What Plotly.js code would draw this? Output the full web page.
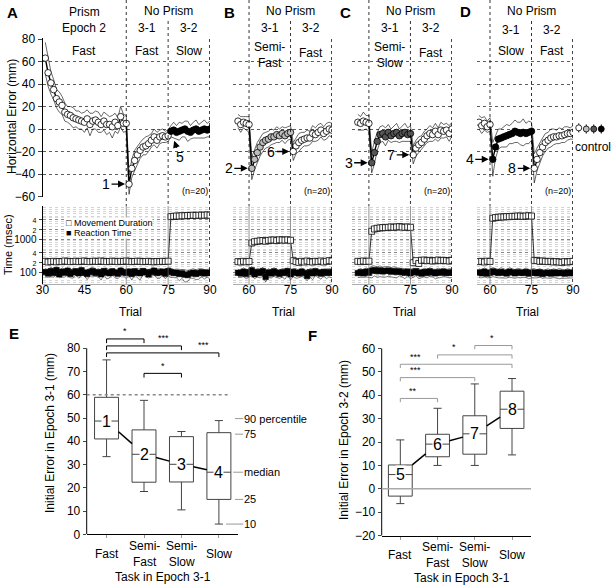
<!DOCTYPE html>
<html><head><meta charset="utf-8">
<script src="https://cdn.plot.ly/plotly-3.0.1.min.js"></script>
<style>html,body{margin:0;padding:0;background:#fff}#chart{width:612px;height:585px}</style>
</head><body><div id="chart"></div>
<script>
const FONT = '"Liberation Sans", Arial, Helvetica, sans-serif';
const W = 612, H = 585;
const fx = px => px / W;
const fy = py => 1 - py / H;

// ---------------- Panel A (trials 31-90) ----------------
const A_err_prism = [63, 50, 41, 35, 27, 24, 21, 15, 13, 12, 10, 9, 8, 7, 6, 9, 4, 7, 8, 6, 4, 7, 4, 4, 2, 6, 3, 11, 5, 5];
const A_sd_prism  = [14, 12, 10, 9, 8, 9, 8, 8, 7, 8, 9, 7, 8, 7, 9, 8, 10, 7, 8, 9, 7, 8, 9, 7, 10, 8, 7, 9, 8, 7];
const A_err_31 = [-49, -35, -28, -23, -19, -16, -15, -13, -10, -7, -10, -7, -6, -7, -6];
const A_sd_31  = [9, 8, 9, 8, 7, 7, 8, 7, 6, 7, 7, 6, 6, 5, 5];
const A_err_32 = [-2, -1, -3, -2, -1, 0, -2, -3, -1, 0, -2, -1, 0, -1, 0];
const A_sd_32  = [5, 7, 6, 8, 6, 7, 9, 6, 7, 8, 6, 7, 8, 6, 7];
const A_md = [220, 210, 215, 220, 212, 218, 215, 225, 220, 215, 218, 222, 215, 220, 225, 218, 215, 220, 222, 218, 225, 220, 215, 218, 222, 220, 215, 220, 218, 225,
              220, 215, 218, 222, 220, 215, 218, 220, 215, 212, 218, 215, 220, 218, 222,
              4800, 4900, 5000, 5000, 5100, 5100, 5200, 5200, 5300, 5200, 5300, 5300, 5300, 5400, 5300];
const A_rt = [105, 95, 112, 98, 120, 90, 108, 100, 115, 92, 104, 110, 96, 118, 100, 92, 106, 113, 99, 104, 90, 112, 101, 96, 110, 100, 94, 115, 103, 98,
              108, 92, 110, 100, 96, 112, 104, 90, 106, 115, 98, 102, 108, 94, 112,
              105, 98, 100, 92, 96, 88, 85, 95, 100, 92, 98, 104, 95, 100, 98];
const A_rt_sd = [30, 22, 35, 25, 28, 20, 33, 26, 30, 22, 35, 24, 28, 32, 20, 30, 26, 34, 22, 28, 30, 24, 36, 26, 22, 30, 28, 34, 24, 30,
                 26, 32, 22, 30, 35, 24, 28, 20, 32, 26, 30, 34, 22, 28, 30,
                 32, 26, 30, 34, 28, 36, 30, 26, 32, 30, 34, 28, 30, 26, 32];
const A_tasks = ['Fast', 'Fast', 'Slow'];

// ---------------- Panel B (trials 56-90) ----------------
const B_err_prism = [7, 4, 6, 5, 4];
const B_sd_prism  = [6, 7, 5, 6, 7];
const B_err_31 = [-35, -27, -21, -16, -12, -10, -9, -7, -7, -5, -6, -4, -6, -4, -3];
const B_sd_31  = [10, 9, 9, 8, 8, 7, 7, 7, 6, 7, 6, 6, 7, 6, 6];
const B_err_32 = [-20, -15, -12, -10, -9, -8, -8, -4, -5, -3, -1, -4, -2, 0, -1];
const B_sd_32  = [8, 7, 8, 7, 6, 7, 6, 7, 6, 7, 6, 6, 7, 6, 6];
const B_md = [215, 210, 220, 212, 218,
              780, 850, 880, 900, 920, 880, 930, 950, 960, 920, 970, 960, 950, 970, 940,
              230, 215, 205, 220, 210, 225, 215, 210, 220, 215, 225, 210, 220, 230, 225];
const B_rt = [100, 95, 108, 92, 104, 118, 90, 105, 98, 112, 75, 102, 95, 110, 100, 92, 104, 98, 112, 90, 106, 100, 95, 108, 98, 80, 104, 96, 110, 100, 94, 106, 98, 104, 100];
const B_rt_sd = [28, 22, 32, 26, 30, 35, 24, 30, 28, 34, 22, 30, 26, 32, 28, 24, 30, 34, 26, 30, 28, 32, 24, 30, 26, 22, 30, 34, 28, 26, 30, 24, 32, 28, 30];
const B_tasks = ['Semi-<br>Fast', 'Fast'];

// ---------------- Panel C (trials 56-90) ----------------
const C_err_prism = [6, 5, 7, 6, 5];
const C_sd_prism  = [7, 6, 8, 6, 7];
const C_err_31 = [-30, -21, -11, -5, -4, -7, -3, -6, -4, -3, -6, -4, -3, -5, -4];
const C_sd_31  = [9, 10, 8, 7, 7, 8, 7, 6, 7, 8, 6, 7, 8, 6, 7];
const C_err_32 = [-23, -17, -14, -12, -9, -6, -4, -5, -2, -5, -1, -2, -1, -4, 0];
const C_sd_32  = [8, 7, 7, 6, 7, 6, 7, 6, 7, 6, 7, 6, 6, 7, 6];
const C_md = [220, 215, 225, 218, 222,
              1750, 2050, 2150, 2200, 2250, 2250, 2300, 2350, 2300, 2350, 2400, 2350, 2300, 2350, 2300,
              200, 230, 190, 235, 240, 230, 235, 225, 230, 240, 230, 235, 230, 225, 235];
const C_rt = [98, 104, 96, 108, 100, 115, 120, 112, 118, 110, 114, 116, 108, 112, 106, 110, 104, 100, 108, 96, 104, 110, 100, 94, 106, 98, 110, 102, 96, 104, 100, 108, 98, 102, 100];
const C_rt_sd = [26, 30, 24, 32, 28, 45, 40, 38, 42, 36, 40, 38, 34, 40, 36, 30, 28, 34, 26, 30, 32, 28, 34, 24, 30, 28, 32, 26, 30, 34, 28, 30, 26, 32, 28];
const C_tasks = ['Semi-<br>Slow', 'Fast'];

// ---------------- Panel D (trials 56-90) ----------------
const D_err_prism = [6, 3, 5, 2, 4];
const D_sd_prism  = [6, 7, 6, 5, 6];
const D_err_31 = [-27, -16, -9, -8, -7, -6, -5, -4, -2, -3, -4, -3, -4, -3, -2];
const D_sd_31  = [15, 10, 9, 8, 9, 10, 8, 9, 10, 9, 10, 12, 9, 10, 8];
const D_err_32 = [-35, -27, -21, -16, -12, -10, -8, -7, -7, -6, -6, -5, -4, -4, -3];
const D_sd_32  = [13, 10, 9, 8, 8, 7, 8, 7, 6, 7, 6, 7, 6, 5, 6];
const D_md = [215, 220, 210, 222, 218,
              4300, 4500, 4600, 4700, 4700, 4800, 4800, 4900, 4900, 5000, 5000, 4900, 5000, 5100, 5000,
              235, 230, 220, 225, 220, 215, 220, 210, 215, 210, 205, 215, 210, 215, 220];
const D_rt = [102, 96, 108, 94, 100, 110, 104, 98, 106, 100, 95, 108, 102, 96, 104, 100, 98, 106, 94, 100, 102, 96, 104, 92, 98, 100, 94, 102, 96, 100, 98, 94, 102, 96, 100];
const D_rt_sd = [30, 26, 32, 24, 28, 34, 30, 28, 36, 30, 26, 34, 30, 28, 32, 30, 26, 34, 28, 30, 32, 26, 30, 24, 28, 32, 26, 30, 28, 34, 30, 26, 32, 28, 30];
const D_tasks = ['Slow', 'Fast'];

// controls (panel D, right side)
const ctrl_mean = [1, 0, 0, 0];
const ctrl_sd = [4, 4, 4, 4];

// ---------------- Panel E / F box statistics ----------------
const task_cats = ['Fast', 'Semi-<br>Fast', 'Semi-<br>Slow', 'Slow'];
const E_lower  = [33.4, 18.4, 10.5, 4.4];
const E_q1     = [41, 22.4, 22.5, 15];
const E_median = [48.7, 34.4, 30.1, 26.7];
const E_q3     = [58.9, 44.9, 42, 43.7];
const E_upper  = [75, 57.6, 44.2, 48.9];
const E_labels = ['1', '2', '3', '4'];
const E_sig_pairs = [[0, 1], [0, 2], [0, 3], [1, 2]];
const E_sig_text = ['*', '***', '***', '*'];

const F_lower  = [-6.3, 10, 10, 14.5];
const F_q1     = [-3.1, 13.7, 14.8, 25.8];
const F_median = [6.1, 19.1, 23.5, 34];
const F_q3     = [10.2, 23.3, 31.2, 41.7];
const F_upper  = [20.9, 34.4, 44.8, 47.1];
const F_labels = ['5', '6', '7', '8'];
const F_sig_pairs = [[2, 3], [1, 3], [0, 3], [0, 2], [0, 1]];
const F_sig_text = ['*', '*', '***', '***', '**'];

// ================= styling / layout =================
const panels = [
  {L:'A', start:31, prism:A_err_prism, sdp:A_sd_prism, e31:A_err_31, sd31:A_sd_31, e32:A_err_32, sd32:A_sd_32, md:A_md, rt:A_rt, rtsd:A_rt_sd, tasks:A_tasks,
   xn:'', yt:'', yb:'2', dom:[42.5, 210], range:[30, 90], xt:[30, 45, 60, 75, 90], c31:'#ffffff', c32:'#000000', num:['1', '5'], letter:[12, 12], trialPx:130},
  {L:'B', start:56, prism:B_err_prism, sdp:B_sd_prism, e31:B_err_31, sd31:B_sd_31, e32:B_err_32, sd32:B_sd_32, md:B_md, rt:B_rt, rtsd:B_rt_sd, tasks:B_tasks,
   xn:'2', yt:'3', yb:'4', dom:[233, 332], range:[54.2, 90], xt:[60, 75, 90], c31:'#bdbdbd', c32:'#ffffff', num:['2', '6'], letter:[229, 12], trialPx:283},
  {L:'C', start:56, prism:C_err_prism, sdp:C_sd_prism, e31:C_err_31, sd31:C_sd_31, e32:C_err_32, sd32:C_sd_32, md:C_md, rt:C_rt, rtsd:C_rt_sd, tasks:C_tasks,
   xn:'3', yt:'5', yb:'6', dom:[352, 452], range:[53.9, 90], xt:[60, 75, 90], c31:'#555555', c32:'#ffffff', num:['3', '7'], letter:[345, 12], trialPx:404},
  {L:'D', start:56, prism:D_err_prism, sdp:D_sd_prism, e31:D_err_31, sd31:D_sd_31, e32:D_err_32, sd32:D_sd_32, md:D_md, rt:D_rt, rtsd:D_rt_sd, tasks:D_tasks,
   xn:'4', yt:'7', yb:'8', dom:[477, 573], range:[55.3, 90], xt:[60, 75, 90], c31:'#000000', c32:'#ffffff', num:['4', '8'], letter:[465, 11], trialPx:527},
];

const TOP_PX = [38.44, 197.06], TOP_RANGE = [-60.5, 80.5];
const TIME_PX = [206, 284], TIME_RANGE = [Math.log10(46), 4];

const minorVals = [];
[10, 100, 1000].forEach(d => [1, 1.25, 1.5, 1.75, 2, 2.5, 3, 3.5, 4, 4.5, 5, 6, 7, 8, 9].forEach(m => minorVals.push(d * m)));
minorVals.push(10000);

const traces = [];
const layout = {
  width: W, height: H, margin: {l: 0, r: 0, t: 0, b: 0},
  paper_bgcolor: '#fff', plot_bgcolor: 'rgba(0,0,0,0)', showlegend: false,
  font: {family: FONT, size: 12, color: '#000'},
  shapes: [], annotations: []
};
const ann = (o) => layout.annotations.push(Object.assign({showarrow: false, font: {family: FONT, size: 12, color: '#000'}, xanchor: 'center', yanchor: 'middle'}, o));
const txt = (text, px, py, o = {}) => ann(Object.assign({text, x: fx(px), y: fy(py), xref: 'paper', yref: 'paper'}, o));
const small = t => '<span style="font-size:7px">' + t + '</span>';

panels.forEach((p, i) => {
  const xid = 'x' + p.xn, ytid = 'y' + p.yt, ybid = 'y' + p.yb;
  const err = p.prism.concat(p.e31, p.e32);
  const sd = p.sdp.concat(p.sd31, p.sd32);
  const trials = err.map((_, k) => p.start + k);
  const up = err.map((v, k) => v + sd[k]), lo = err.map((v, k) => v - sd[k]);
  const thin = {color: '#000', width: 0.6};
  traces.push({x: trials, y: up, xaxis: xid, yaxis: ytid, mode: 'lines', line: thin, hoverinfo: 'skip'});
  traces.push({x: trials, y: lo, xaxis: xid, yaxis: ytid, mode: 'lines', line: thin, hoverinfo: 'skip'});
  traces.push({x: trials, y: err, xaxis: xid, yaxis: ytid, mode: 'lines', line: {color: '#000', width: 1.4}});
  let off = 0;
  [[p.prism, '#ffffff'], [p.e31, p.c31], [p.e32, p.c32]].forEach(([arr, c]) => {
    traces.push({x: trials.slice(off, off + arr.length), y: arr, xaxis: xid, yaxis: ytid, mode: 'markers',
      marker: {symbol: 'circle', size: 6.5, color: c, line: {color: '#000', width: 0.8}}});
    off += arr.length;
  });
  // time panel
  const rtUp = p.rt.map((v, k) => v + p.rtsd[k]), rtLo = p.rt.map((v, k) => v - p.rtsd[k]);
  traces.push({x: trials, y: rtUp, xaxis: xid, yaxis: ybid, mode: 'lines', line: {color: '#000', width: 0.5}});
  traces.push({x: trials, y: rtLo, xaxis: xid, yaxis: ybid, mode: 'lines', line: {color: '#000', width: 0.5}});
  traces.push({x: trials, y: p.md, xaxis: xid, yaxis: ybid, mode: 'lines+markers', line: {color: '#000', width: 0.8},
    marker: {symbol: 'square', size: 6, color: '#fff', line: {color: '#000', width: 0.8}}});
  traces.push({x: trials, y: p.rt, xaxis: xid, yaxis: ybid, mode: 'lines+markers', line: {color: '#000', width: 0.8},
    marker: {symbol: 'square', size: 5.5, color: '#000', line: {color: '#000', width: 0.5}}});

  // axes
  layout['xaxis' + p.xn] = {domain: [fx(p.dom[0]), fx(p.dom[1])], range: p.range, anchor: ybid, tickmode: 'array', tickvals: p.xt,
    showgrid: false, zeroline: false, showline: true, linecolor: '#999', linewidth: 0.8, ticks: '', ticklabelstandoff: -5, tickfont: {size: 12}, fixedrange: true};
  layout['yaxis' + p.yt] = {domain: [fy(TOP_PX[1]), fy(TOP_PX[0])], range: TOP_RANGE, anchor: xid, tickmode: 'array',
    tickvals: [-60, -40, -20, 0, 20, 40, 60, 80], showgrid: true, gridcolor: '#333', griddash: 'dot', gridwidth: 0.8, zeroline: false,
    showline: i === 0, linecolor: '#000', linewidth: 1, ticks: i === 0 ? 'outside' : '', ticklen: 4, showticklabels: i === 0, tickfont: {size: 12}, fixedrange: true};
  layout['yaxis' + p.yb] = {domain: [fy(TIME_PX[1]), fy(TIME_PX[0])], type: 'log', range: TIME_RANGE, anchor: xid, tickmode: 'array',
    tickvals: [100, 200, 400, 1000, 2000, 4000],
    ticktext: ['100', small('2'), small('4'), '1000', small('2'), small('4')],
    showgrid: true, gridcolor: '#555', griddash: 'dot', gridwidth: 0.6,
    minor: {tickmode: 'array', tickvals: minorVals, showgrid: true, gridcolor: '#aaa', griddash: 'dot', gridwidth: 0.5, ticks: ''},
    zeroline: false, showline: i === 0, linecolor: '#000', linewidth: 1, ticks: i === 0 ? 'outside' : '', ticklen: 3, showticklabels: i === 0, tickfont: {size: 10}, fixedrange: true};

  // vertical separators
  const dotted = {color: '#000', width: 0.8, dash: 'dot'};
  layout.shapes.push({type: 'line', xref: xid, yref: 'paper', x0: 60, x1: 60, y0: fy(0), y1: fy(TIME_PX[0]), line: dotted});
  layout.shapes.push({type: 'line', xref: xid, yref: 'paper', x0: 75, x1: 75, y0: fy(21), y1: fy(TIME_PX[0]), line: dotted});
  layout.shapes.push({type: 'line', xref: xid, yref: 'paper', x0: 89.85, x1: 89.85, y0: fy(39), y1: fy(TIME_PX[1]), line: dotted});
  [60, 75].forEach(b => layout.shapes.push({type: 'line', xref: xid, yref: 'paper', x0: b, x1: b, y0: fy(TIME_PX[0]), y1: fy(TIME_PX[1]), line: {color: '#666', width: 0.7}}));

  // headers
  ann({text: 'No Prism', x: 75, xref: xid, y: fy(11), yref: 'paper'});
  const hy = p.L === 'D' ? 30 : 28;
  ann({text: '3-1', x: 67.5, xref: xid, y: fy(hy), yref: 'paper'});
  ann({text: '3-2', x: 82.5, xref: xid, y: fy(hy), yref: 'paper'});
  const tk = p.tasks.length === 3 ? p.tasks.slice(1) : p.tasks;
  ann({text: tk[0], x: 67.5, xref: xid, y: fy(tk[0].includes('<br>') ? 55 : 51), yref: 'paper'});
  ann({text: tk[1], x: 82.5, xref: xid, y: fy(p.L === 'A' || p.L === 'D' ? 51 : 53), yref: 'paper'});
  ann({text: '(n=20)', x: 84.6, xref: xid, y: fy(191), yref: 'paper', font: {family: FONT, size: 9, color: '#000'}});
  txt('<b>' + p.L + '</b>', p.letter[0], p.letter[1], {font: {family: FONT, size: 15, color: '#000'}});
  txt('Trial', p.trialPx, 312);

  // numbered arrows
  const arrowStyle = {showarrow: true, arrowhead: 2, arrowsize: 1, arrowwidth: 1.4, arrowcolor: '#000', font: {family: FONT, size: 14, color: '#000'}};
  ann(Object.assign({text: p.num[0], x: 61, xref: xid, y: p.e31[0], yref: ytid, ax: -23, ay: 0, standoff: 4}, arrowStyle));
  if (p.L === 'A') {
    ann(Object.assign({text: p.num[1], x: 76, xref: xid, y: p.e32[0], yref: ytid, ax: 9, ay: 26, standoff: 10}, arrowStyle));
  } else {
    ann(Object.assign({text: p.num[1], x: 76, xref: xid, y: p.e32[0], yref: ytid, ax: -22, ay: 0, standoff: 4}, arrowStyle));
  }
});

// Panel A extra header
ann({text: 'Prism', x: 45, xref: 'x', y: fy(12), yref: 'paper'});
ann({text: 'Epoch 2', x: 45, xref: 'x', y: fy(28), yref: 'paper'});
ann({text: A_tasks[0], x: 45, xref: 'x', y: fy(51), yref: 'paper'});
txt('Horizontal Error (mm)', 12, 117, {textangle: -90});
txt('Time (msec)', 8, 245, {textangle: -90, font: {family: FONT, size: 11, color: '#000'}});
txt('\u25A1 Movement Duration', 65, 223.5, {xanchor: 'left', font: {family: FONT, size: 9, color: '#000'}, bgcolor: '#fff', borderpad: 0});
txt('\u25A0 Reaction Time', 65, 233, {xanchor: 'left', font: {family: FONT, size: 9, color: '#000'}, bgcolor: '#fff', borderpad: 0});

// controls
traces.push({x: [1, 2, 3, 4], y: ctrl_mean, xaxis: 'x7', yaxis: 'y11', mode: 'markers',
  error_y: {type: 'data', array: ctrl_sd, visible: true, color: '#000', thickness: 1, width: 0},
  marker: {symbol: 'circle', size: 6, color: ['#ffffff', '#bdbdbd', '#555555', '#000000'], line: {color: '#000', width: 0.8}}});
layout.xaxis7 = {domain: [fx(575), fx(605)], range: [0.5, 4.5], anchor: 'y11', visible: false, fixedrange: true};
layout.yaxis11 = {domain: [fy(TOP_PX[1]), fy(TOP_PX[0])], range: TOP_RANGE, anchor: 'x7', visible: false, fixedrange: true};
txt('control', 593, 147);

// ================= Panels E and F =================
function boxPanel(cfg) {
  const {xn, yn, lower, q1, med, q3, upper, labels, pairs, sigText, sigLevels, sigX, drop, bracketColor} = cfg;
  const xid = 'x' + xn, yid = 'y' + yn;
  const hw = 0.32;
  const sx = [], sy = [];
  for (let k = 0; k < med.length - 1; k++) {
    sx.push(k + hw, k + 1 - hw, null);
    sy.push(med[k] + (med[k + 1] - med[k]) * hw, med[k] + (med[k + 1] - med[k]) * (1 - hw), null);
  }
  traces.push({type: 'box', x: [0, 1, 2, 3], q1: q1, median: med, q3: q3, lowerfence: lower, upperfence: upper,
    xaxis: xid, yaxis: yid, width: 0.64, whiskerwidth: 0.34, fillcolor: '#fff', line: {color: '#444', width: 1}, boxpoints: false, hoverinfo: 'skip'});
  traces.push({x: sx, y: sy, xaxis: xid, yaxis: yid, mode: 'lines', line: {color: '#000', width: 1.5}, hoverinfo: 'skip'});
  labels.forEach((t, k) => ann({text: t, x: k, y: med[k], xref: xid, yref: yid, bgcolor: '#fff', borderpad: 0, font: {family: FONT, size: 16, color: '#000'}}));
  pairs.forEach(([a, b], k) => {
    const lv = sigLevels[k];
    layout.shapes.push({type: 'path', xref: xid, yref: yid, path: `M ${a},${lv - drop} L ${a},${lv} L ${b},${lv} L ${b},${lv - drop}`,
      line: {color: bracketColor, width: 1}});
    ann({text: sigText[k], x: sigX[k], y: lv + 0.3, xref: xid, yref: yid, yanchor: 'bottom', font: {family: FONT, size: 9, color: '#000'}});
  });
}

// E axes
layout.xaxis5 = {domain: [fx(86.7), fx(238)], range: [-0.53, 3.51], anchor: 'y9', tickmode: 'array', tickvals: [0, 1, 2, 3], showticklabels: false,
  ticks: 'outside', ticklen: 3, tickcolor: '#999', showline: true, linecolor: '#000', linewidth: 1, showgrid: false, zeroline: false, fixedrange: true};
layout.yaxis9 = {domain: [fy(534.3), fy(334.3)], range: [0, 86], anchor: 'x5', tickmode: 'array', tickvals: [0, 10, 20, 30, 40, 50, 60, 70, 80],
  ticks: 'outside', ticklen: 3, showline: false, showgrid: false, zeroline: false, tickfont: {size: 12}, fixedrange: true};
layout.shapes.push({type: 'line', xref: 'x5 domain', yref: 'y9', x0: 0, x1: 0, y0: 0, y1: 80, line: {color: '#000', width: 1}});
layout.shapes.push({type: 'line', xref: 'x5', yref: 'y9', x0: -0.53, x1: 3.32, y0: 60, y1: 60, line: {color: '#888', width: 1.5, dash: 'dot'}});
boxPanel({xn: '5', yn: '9', lower: E_lower, q1: E_q1, med: E_median, q3: E_q3, upper: E_upper, labels: E_labels,
  pairs: E_sig_pairs, sigText: E_sig_text, sigLevels: [84, 81, 78, 69.2], sigX: [0.5, 1.52, 2.59, 1.5], drop: 1.8, bracketColor: '#000'});

// F axes
layout.xaxis6 = {domain: [fx(381.7), fx(531)], range: [-0.5, 3.51], anchor: 'y10', tickmode: 'array', tickvals: [0, 1, 2, 3], showticklabels: false,
  ticks: 'outside', ticklen: 3, tickcolor: '#999', showline: true, linecolor: '#000', linewidth: 1, showgrid: false, zeroline: false, fixedrange: true};
layout.yaxis10 = {domain: [fy(535.7), fy(341.3)], range: [-20, 63], anchor: 'x6', tickmode: 'array', tickvals: [-20, -10, 0, 10, 20, 30, 40, 50, 60],
  ticks: 'outside', ticklen: 3, showline: false, showgrid: false, zeroline: false, tickfont: {size: 12}, fixedrange: true};
layout.shapes.push({type: 'line', xref: 'x6 domain', yref: 'y10', x0: 0, x1: 0, y0: -20, y1: 60, line: {color: '#000', width: 1}});
layout.shapes.push({type: 'line', xref: 'x6 domain', yref: 'y10', x0: 0, x1: 1, y0: 0, y1: 0, line: {color: '#aaa', width: 1.5}});
boxPanel({xn: '6', yn: '10', lower: F_lower, q1: F_q1, med: F_median, q3: F_q3, upper: F_upper, labels: F_labels,
  pairs: F_sig_pairs, sigText: F_sig_text, sigLevels: [61.2, 57.2, 53.2, 47.5, 38.6], sigX: [2.45, 1.45, 0.4, 0.4, 0.35], drop: 1.6, bracketColor: '#999'});

// E/F category labels, titles, percentile key
task_cats.forEach((c, k) => {
  ann({text: c, x: k, xref: 'x5', y: fy(554), yref: 'paper'});
  ann({text: c, x: k, xref: 'x6', y: fy(555), yref: 'paper'});
});
txt('Task in Epoch 3-1', 163, 577);
txt('Task in Epoch 3-1', 462, 578);
txt('Initial Error in Epoch 3-1 (mm)', 50, 433, {textangle: -90});
txt('Initial Error in Epoch 3-2 (mm)', 344, 440, {textangle: -90});
txt('<b>E</b>', 14, 333, {font: {family: FONT, size: 15, color: '#000'}});
txt('<b>F</b>', 312, 335, {font: {family: FONT, size: 15, color: '#000'}});

const pctLabels = ['90 percentile', '75', 'median', '25', '10'];
const pctVals = [E_upper[3], E_q3[3], E_median[3], E_q1[3], E_lower[3]];
const pctStart = [3.43, 3.43, 3.38, 3.43, 3.19];
const pctShift = [2, -1.5, 0, 0, 0];
pctLabels.forEach((t, k) => ann({text: t, x: pctStart[k], y: pctVals[k], xref: 'x5', yref: 'y9', showarrow: true, arrowhead: 0, arrowwidth: 1,
  arrowcolor: '#999', ax: 243 - (106.3 + pctStart[k] * 37.47), ay: 0, xanchor: 'left', standoff: 0, startstandoff: 0, borderpad: 0,
  yshift: pctShift[k], font: {family: FONT, size: 11, color: '#000'}}));

Plotly.newPlot('chart', traces, layout, {displayModeBar: false, staticPlot: true});
</script></body></html>
